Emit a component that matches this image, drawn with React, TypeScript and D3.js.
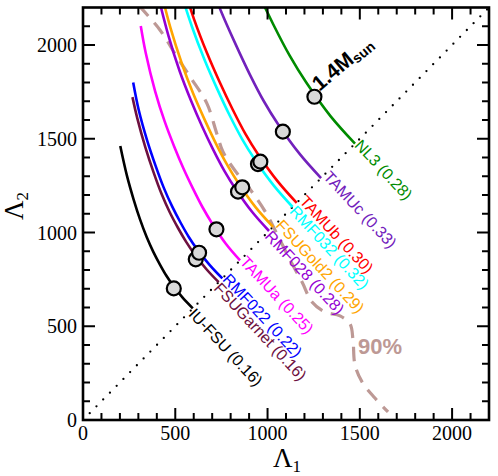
import React from 'react';
import * as d3 from 'd3';

const W = 498;
const H = 476;

// axis ticks
const majorTicks = [0, 500, 1000, 1500, 2000];
const minorTicks = d3.range(0, 2201, 100).filter((v) => v % 500 !== 0);

// models (name, R_1.4 in parentheses)
const modelNames = ['IU-FSU', 'FSUGarnet', 'RMF022', 'TAMUa', 'RMF028', 'FSUGold2', 'RMF032', 'TAMUb', 'TAMUc', 'NL3'];
const modelR = ['0.16', '0.16', '0.22', '0.25', '0.28', '0.29', '0.32', '0.30', '0.33', '0.28'];
const modelColors = ['#000000', '#6e1040', '#0000ff', '#ff00ff', '#9400d3', '#ffa500', '#00ffff', '#ff0000', '#7221bc', '#008b00'];

// Λ1–Λ2 curves (Λ1 values, Λ2 values)
const iuFsuL1 = [202, 238, 274, 309, 345, 381, 417, 452, 488, 541, 595];
const iuFsuL2 = [1461, 1303, 1177, 1070, 976, 897, 829, 769, 717, 651, 595];
const fsuGarnetL1 = [268, 294, 338, 382, 426, 470, 515, 559, 603, 669, 735];
const fsuGarnetL2 = [1722, 1610, 1454, 1322, 1205, 1108, 1024, 950, 886, 804, 735];
const rmf022L1 = [272, 302, 347, 393, 438, 483, 529, 574, 619, 687, 755];
const rmf022L2 = [1800, 1653, 1493, 1357, 1238, 1139, 1052, 975, 910, 826, 755];
const tamuAL1 = [313, 340, 391, 443, 494, 545, 596, 647, 698, 774, 851];
const tamuAL2 = [2101, 1957, 1753, 1591, 1459, 1340, 1234, 1136, 1051, 940, 851];
const rmf028L1 = [403, 464, 524, 585, 645, 706, 766, 827, 917, 1008];
const rmf028L2 = [2278, 2046, 1860, 1704, 1567, 1441, 1329, 1232, 1109, 1008];
const fsuGold2L1 = [412, 474, 536, 597, 659, 721, 783, 845, 937, 1030];
const fsuGold2L2 = [2328, 2091, 1900, 1741, 1602, 1473, 1358, 1259, 1133, 1030];
const rmf032L1 = [454, 523, 591, 659, 727, 795, 863, 932, 1034, 1136];
const rmf032L2 = [2567, 2306, 2096, 1920, 1766, 1624, 1497, 1388, 1250, 1136];
const tamuBL1 = [463, 533, 602, 672, 741, 811, 880, 950, 1054, 1158];
const tamuBL2 = [2617, 2351, 2137, 1957, 1801, 1656, 1526, 1415, 1274, 1158];
const tamuCL1 = [593, 671, 748, 826, 903, 980, 1058, 1174, 1290];
const tamuCL2 = [2619, 2380, 2180, 2006, 1845, 1700, 1576, 1419, 1290];
const nl3L1 = [766, 855, 943, 1032, 1120, 1209, 1341, 1474];
const nl3L2 = [2720, 2491, 2292, 2108, 1943, 1801, 1621, 1474];

const curveL1 = [iuFsuL1, fsuGarnetL1, rmf022L1, tamuAL1, rmf028L1, fsuGold2L1, rmf032L1, tamuBL1, tamuCL1, nl3L1];
const curveL2 = [iuFsuL2, fsuGarnetL2, rmf022L2, tamuAL2, rmf028L2, fsuGold2L2, rmf032L2, tamuBL2, tamuCL2, nl3L2];

// 1.4 Msun points
const m14Lambda1 = [492, 611, 629, 723, 840, 863, 948, 961, 1083, 1254];
const m14Lambda2 = [702, 857, 892, 1017, 1218, 1241, 1365, 1378, 1538, 1724];

// where each model label starts on the Λ1 = Λ2 diagonal
const labelOnDiagonal = [562, 699, 747, 840, 976, 1035, 1109, 1163, 1293, 1462];

// 90% contour
const contourL1 = [303, 417, 508, 580, 670, 724, 759, 829, 916, 992, 1057, 1122, 1187, 1241, 1311, 1393, 1447, 1463, 1474, 1512, 1582, 1653];
const contourL2 = [2210, 2080, 1938, 1831, 1691, 1531, 1429, 1323, 1216, 1104, 981, 853, 736, 629, 576, 555, 512, 427, 293, 203, 117, 43];

const diagonal = [0, 2200];

const x = d3.scaleLinear().domain([0, 2200]).range([83, 489]);
const y = d3.scaleLinear().domain([0, 2200]).range([420, 7.5]);

const SERIF = "'Liberation Serif', 'Times New Roman', serif";
const SANS = "'Liberation Sans', Arial, Helvetica, sans-serif";
const LABEL_ANGLE = 47;

const zip = (a: number[], b: number[]) => a.map((v, i) => [v, b[i]]);

export default function App() {
  const line = d3
    .line<number[]>()
    .x((d) => x(d[0]))
    .y((d) => y(d[1]))
    .curve(d3.curveCatmullRom.alpha(0.5));
  const straight = d3
    .line<number[]>()
    .x((d) => x(d[0]))
    .y((d) => y(d[1]));

  const [x0, x1] = x.range();
  const [y0, y1] = y.range();

  return (
    <svg
      width={W}
      height={H}
      style={{ position: 'absolute', left: 0, top: 0, background: '#fff' }}
      xmlns="http://www.w3.org/2000/svg"
    >
      <defs>
        <clipPath id="plot">
          <rect x={x0} y={y1} width={x1 - x0} height={y0 - y1} />
        </clipPath>
      </defs>
      <rect width={W} height={H} fill="#fff" />

      <g clipPath="url(#plot)">
        <path
          d={straight(zip(diagonal, diagonal)) || ''}
          fill="none"
          stroke="#000"
          strokeWidth={2.3}
          strokeDasharray="0 9.6"
          strokeLinecap="round"
        />
        <path
          d={line(zip(contourL1, contourL2)) || ''}
          fill="none"
          stroke="#bd9995"
          strokeWidth={3.2}
          strokeDasharray="14 9"
        />
        {curveL1.map((l1, i) => (
          <path key={i} d={line(zip(l1, curveL2[i])) || ''} fill="none" stroke={modelColors[i]} strokeWidth={2.6} />
        ))}
        {m14Lambda1.map((l1, i) => (
          <circle key={i} cx={x(l1)} cy={y(m14Lambda2[i])} r={7} fill="#d9d9d9" stroke="#000" strokeWidth={2.2} />
        ))}
      </g>

      {/* model labels */}
      {labelOnDiagonal.map((v, i) => (
        <text
          key={i}
          transform={`translate(${x(v) + 1},${y(v)}) rotate(${LABEL_ANGLE})`}
          fontFamily={SANS}
          fontSize={16}
          fill={modelColors[i]}
        >
          {`${modelNames[i]} (${modelR[i]})`}
        </text>
      ))}

      <text
        transform={`translate(${x(m14Lambda1[9]) + 5},${y(m14Lambda2[9]) - 5}) rotate(-40)`}
        fontFamily={SANS}
        fontWeight="bold"
        fontSize={21}
        fill="#000"
      >
        1.4M
        <tspan fontSize={14} dy={3}>
          sun
        </tspan>
      </text>

      <text x={358} y={354} fontFamily={SANS} fontWeight="bold" fontSize={22} fill="#bd9995">
        90%
      </text>

      {/* frame */}
      <rect x={x0} y={y1} width={x1 - x0} height={y0 - y1} fill="none" stroke="#000" strokeWidth={2.6} />

      {/* ticks */}
      <g stroke="#000" strokeWidth={2}>
        {majorTicks.concat(minorTicks).map((v) => {
          const len = v % 500 === 0 ? 12 : 7;
          return (
            <g key={v}>
              {x(v) < x1 - 1 && x(v) > x0 + 1 && (
                <>
                  <line x1={x(v)} x2={x(v)} y1={y0} y2={y0 - len} />
                  <line x1={x(v)} x2={x(v)} y1={y1} y2={y1 + len} />
                </>
              )}
              {y(v) > y1 + 1 && y(v) < y0 - 1 && (
                <>
                  <line x1={x0} x2={x0 + len} y1={y(v)} y2={y(v)} />
                  <line x1={x1} x2={x1 - len} y1={y(v)} y2={y(v)} />
                </>
              )}
            </g>
          );
        })}
      </g>

      {/* tick labels */}
      {majorTicks.map((v) => (
        <text key={'x' + v} x={x(v)} y={440} textAnchor="middle" fontFamily={SERIF} fontSize={20} fill="#000">
          {v}
        </text>
      ))}
      {majorTicks.map((v) => (
        <text
          key={'y' + v}
          x={77}
          y={y(v)}
          dy="0.35em"
          textAnchor="end"
          fontFamily={SERIF}
          fontSize={20}
          fill="#000"
        >
          {v}
        </text>
      ))}

      {/* axis titles */}
      <text x={273} y={467} fontFamily={SERIF} fontSize={27} fill="#000">
        Λ
        <tspan fontSize={17} dy={5}>
          1
        </tspan>
      </text>
      <text transform="translate(23,220) rotate(-90)" fontFamily={SERIF} fontSize={27} fill="#000">
        Λ
        <tspan fontSize={17} dy={5}>
          2
        </tspan>
      </text>
    </svg>
  );
}
